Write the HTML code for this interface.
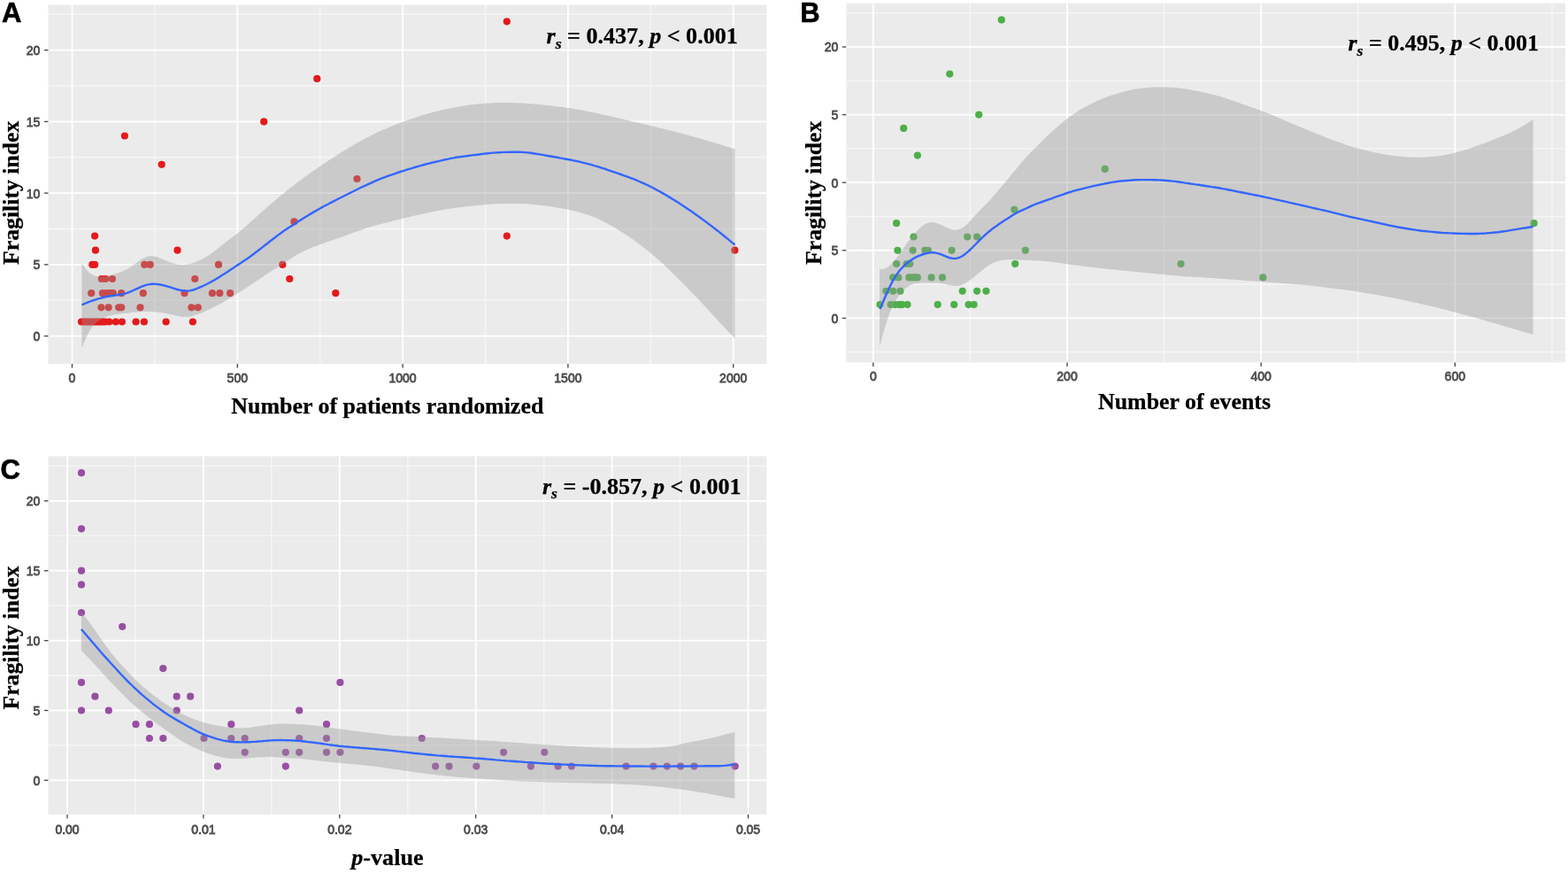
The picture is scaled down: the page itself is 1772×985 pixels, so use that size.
<!DOCTYPE html>
<html lang="en">
<head>
<meta charset="utf-8">
<title>Fragility index correlations</title>
<style>
html,body{margin:0;padding:0;background:#fff}
body{width:1772px;height:985px;overflow:hidden}
svg{display:block}
.gmin{stroke:#f7f7f7;stroke-width:1.3;fill:none}
.gmaj{stroke:#ffffff;stroke-width:1.8;fill:none}
.tl text{font-family:"Liberation Sans",sans-serif;font-size:14px;fill:#4d4d4d;stroke:#4d4d4d;stroke-width:0.8}
.tt{font-family:"Liberation Serif",serif;font-size:26px;font-weight:700;fill:#000;stroke:#000;stroke-width:0.25}
.an{font-family:"Liberation Serif",serif;font-size:25px;font-weight:700;fill:#000;stroke:#000;stroke-width:0.25}
.lt{font-family:"Liberation Sans",sans-serif;font-size:31px;font-weight:700;fill:#000;stroke:#000;stroke-width:0.6}
</style>
</head>
<body>
<svg width="1772" height="985" viewBox="0 0 1772 985">
<rect width="1772" height="985" fill="#ffffff"/>
<g class="panel">
<rect x="54.5" y="5.5" width="811.8" height="405.5" fill="#ebebeb"/>
<clipPath id="cp1"><rect x="54.5" y="5.5" width="811.8" height="405.5"/></clipPath>
<g><path d="M54.5 339.2H866.3" class="gmin"/><path d="M54.5 258.5H866.3" class="gmin"/><path d="M54.5 177.7H866.3" class="gmin"/><path d="M54.5 97H866.3" class="gmin"/><path d="M54.5 16.2H866.3" class="gmin"/><path d="M174.9 5.5V411" class="gmin"/><path d="M361.7 5.5V411" class="gmin"/><path d="M548.5 5.5V411" class="gmin"/><path d="M735.3 5.5V411" class="gmin"/><path d="M54.5 379.6H866.3" class="gmaj"/><path d="M54.5 298.9H866.3" class="gmaj"/><path d="M54.5 218.1H866.3" class="gmaj"/><path d="M54.5 137.4H866.3" class="gmaj"/><path d="M54.5 56.6H866.3" class="gmaj"/><path d="M81.5 5.5V411" class="gmaj"/><path d="M268.3 5.5V411" class="gmaj"/><path d="M455.1 5.5V411" class="gmaj"/><path d="M641.9 5.5V411" class="gmaj"/><path d="M828.7 5.5V411" class="gmaj"/></g>
<g fill="#e41a1c"><circle cx="572.8" cy="24.3" r="4.1"/><circle cx="358.3" cy="88.9" r="4.1"/><circle cx="298.2" cy="137.4" r="4.1"/><circle cx="140.9" cy="153.5" r="4.1"/><circle cx="182.7" cy="185.8" r="4.1"/><circle cx="403.5" cy="202" r="4.1"/><circle cx="332.4" cy="250.4" r="4.1"/><circle cx="107.1" cy="266.6" r="4.1"/><circle cx="572.8" cy="266.6" r="4.1"/><circle cx="107.9" cy="282.7" r="4.1"/><circle cx="200.5" cy="282.7" r="4.1"/><circle cx="830.4" cy="282.7" r="4.1"/><circle cx="104.3" cy="298.9" r="4.1"/><circle cx="107.1" cy="298.9" r="4.1"/><circle cx="163.3" cy="298.9" r="4.1"/><circle cx="169.7" cy="298.9" r="4.1"/><circle cx="247" cy="298.9" r="4.1"/><circle cx="319.3" cy="298.9" r="4.1"/><circle cx="114.8" cy="315" r="4.1"/><circle cx="119.2" cy="315" r="4.1"/><circle cx="126.9" cy="315" r="4.1"/><circle cx="220.3" cy="315" r="4.1"/><circle cx="327.3" cy="315" r="4.1"/><circle cx="103.2" cy="331.2" r="4.1"/><circle cx="115.9" cy="331.2" r="4.1"/><circle cx="120.4" cy="331.2" r="4.1"/><circle cx="124.1" cy="331.2" r="4.1"/><circle cx="127.8" cy="331.2" r="4.1"/><circle cx="137.2" cy="331.2" r="4.1"/><circle cx="161.8" cy="331.2" r="4.1"/><circle cx="208.5" cy="331.2" r="4.1"/><circle cx="239.9" cy="331.2" r="4.1"/><circle cx="248.3" cy="331.2" r="4.1"/><circle cx="260.1" cy="331.2" r="4.1"/><circle cx="379.3" cy="331.2" r="4.1"/><circle cx="114.4" cy="347.3" r="4.1"/><circle cx="122.6" cy="347.3" r="4.1"/><circle cx="134.2" cy="347.3" r="4.1"/><circle cx="137.2" cy="347.3" r="4.1"/><circle cx="158.5" cy="347.3" r="4.1"/><circle cx="216.4" cy="347.3" r="4.1"/><circle cx="223.8" cy="347.3" r="4.1"/><circle cx="92" cy="363.5" r="4.1"/><circle cx="94.2" cy="363.5" r="4.1"/><circle cx="96.4" cy="363.5" r="4.1"/><circle cx="98.7" cy="363.5" r="4.1"/><circle cx="100.9" cy="363.5" r="4.1"/><circle cx="103.2" cy="363.5" r="4.1"/><circle cx="105.4" cy="363.5" r="4.1"/><circle cx="107.7" cy="363.5" r="4.1"/><circle cx="109.9" cy="363.5" r="4.1"/><circle cx="112.1" cy="363.5" r="4.1"/><circle cx="114.4" cy="363.5" r="4.1"/><circle cx="116.6" cy="363.5" r="4.1"/><circle cx="118.9" cy="363.5" r="4.1"/><circle cx="123.3" cy="363.5" r="4.1"/><circle cx="130.8" cy="363.5" r="4.1"/><circle cx="137.9" cy="363.5" r="4.1"/><circle cx="153.6" cy="363.5" r="4.1"/><circle cx="162.9" cy="363.5" r="4.1"/><circle cx="187.6" cy="363.5" r="4.1"/><circle cx="217.9" cy="363.5" r="4.1"/></g>
<path d="M92.5 297.2L95.5 301.7L98.5 305.5L101.5 308.5L104.5 310.5L107.5 311.8L110.5 312.4L113.5 312.5L116.5 312.3L119.5 311.9L122.5 311.4L125.5 310.7L128.5 309.9L131.5 309L134.5 308L137.5 306.9L140.5 305.6L143.5 304.1L146.5 302.3L149.5 300.3L152.5 298.1L155.5 295.9L158.5 293.7L161.5 291.9L164.5 290.5L167.5 289.5L170.5 289.2L173.5 289.4L176.5 290L179.5 291L182.5 292.2L185.5 293.5L188.5 294.8L191.5 296L194.5 297.1L197.5 297.9L200.5 298.5L203.5 298.9L206.5 299L209.5 298.8L212.5 298.4L215.5 297.8L218.5 296.9L221.5 295.8L224.5 294.6L227.5 293.2L230.5 291.6L233.5 289.8L236.5 287.9L239.5 285.7L242.5 283.5L245.5 281.2L248.5 278.8L251.5 276.5L254.5 274.1L257.5 271.8L260.5 269.5L263.5 267.2L266.5 264.9L269.5 262.5L272.5 260.1L275.5 257.5L278.5 254.9L281.5 252.3L284.5 249.6L287.5 246.9L290.5 244.2L293.5 241.5L296.5 238.8L299.5 236.2L302.5 233.6L305.5 231L308.5 228.4L311.5 225.9L314.5 223.3L317.5 220.8L320.5 218.4L323.5 216L326.5 213.6L329.5 211.2L332.5 208.9L335.5 206.5L338.5 204.2L341.5 202L344.5 199.8L347.5 197.7L350.5 195.6L353.5 193.5L356.5 191.4L359.5 189.3L362.5 187.3L365.5 185.2L368.5 183.3L371.5 181.3L374.5 179.3L377.5 177.4L380.5 175.4L383.5 173.5L386.5 171.6L389.5 169.8L392.5 168L395.5 166.2L398.5 164.4L401.5 162.6L404.5 160.9L407.5 159.2L410.5 157.5L413.5 156L416.5 154.5L419.5 153L422.5 151.5L425.5 150L428.5 148.6L431.5 147.2L434.5 145.9L437.5 144.7L440.5 143.5L443.5 142.3L446.5 141.1L449.5 139.9L452.5 138.8L455.5 137.6L458.5 136.6L461.5 135.5L464.5 134.4L467.5 133.4L470.5 132.4L473.5 131.4L476.5 130.4L479.5 129.5L482.5 128.7L485.5 127.9L488.5 127L491.5 126.2L494.5 125.5L497.5 124.7L500.5 124L503.5 123.4L506.5 122.8L509.5 122.2L512.5 121.6L515.5 121L518.5 120.4L521.5 119.9L524.5 119.5L527.5 119L530.5 118.6L533.5 118.2L536.5 117.8L539.5 117.5L542.5 117.2L545.5 116.9L548.5 116.7L551.5 116.5L554.5 116.4L557.5 116.2L560.5 116.1L563.5 116L566.5 115.9L569.5 115.9L572.5 116L575.5 116L578.5 116.1L581.5 116.2L584.5 116.2L587.5 116.4L590.5 116.5L593.5 116.7L596.5 116.9L599.5 117.2L602.5 117.4L605.5 117.7L608.5 117.9L611.5 118.2L614.5 118.5L617.5 118.9L620.5 119.2L623.5 119.6L626.5 119.9L629.5 120.3L632.5 120.7L635.5 121.1L638.5 121.5L641.5 121.9L644.5 122.3L647.5 122.7L650.5 123.2L653.5 123.7L656.5 124.3L659.5 124.9L662.5 125.4L665.5 126L668.5 126.7L671.5 127.3L674.5 127.9L677.5 128.6L680.5 129.3L683.5 129.9L686.5 130.6L689.5 131.2L692.5 131.9L695.5 132.6L698.5 133.3L701.5 134L704.5 134.8L707.5 135.5L710.5 136.2L713.5 136.9L716.5 137.6L719.5 138.3L722.5 139L725.5 139.7L728.5 140.4L731.5 141.1L734.5 141.8L737.5 142.5L740.5 143.2L743.5 144L746.5 144.7L749.5 145.4L752.5 146.2L755.5 146.9L758.5 147.6L761.5 148.4L764.5 149.2L767.5 149.9L770.5 150.7L773.5 151.6L776.5 152.4L779.5 153.2L782.5 154.1L785.5 154.9L788.5 155.8L791.5 156.6L794.5 157.5L797.5 158.4L800.5 159.3L803.5 160.2L806.5 161.1L809.5 162L812.5 162.9L815.5 163.8L818.5 164.7L821.5 165.6L824.5 166.6L827.5 167.5L830.5 168.5L830.5 382.2L827.5 379.1L824.5 376L821.5 372.9L818.5 369.7L815.5 366.6L812.5 363.4L809.5 360.1L806.5 356.8L803.5 353.5L800.5 350.3L797.5 347L794.5 343.7L791.5 340.5L788.5 337.4L785.5 334.2L782.5 331.1L779.5 328L776.5 324.8L773.5 321.7L770.5 318.7L767.5 315.7L764.5 312.7L761.5 309.8L758.5 306.9L755.5 304L752.5 301.1L749.5 298.3L746.5 295.5L743.5 292.8L740.5 290.2L737.5 287.7L734.5 285.2L731.5 282.8L728.5 280.4L725.5 278L722.5 275.7L719.5 273.4L716.5 271.3L713.5 269.2L710.5 267.2L707.5 265.3L704.5 263.4L701.5 261.5L698.5 259.6L695.5 257.7L692.5 255.9L689.5 254.2L686.5 252.6L683.5 251L680.5 249.5L677.5 248L674.5 246.6L671.5 245.3L668.5 244.2L665.5 243.1L662.5 242.1L659.5 241.2L656.5 240.2L653.5 239.3L650.5 238.5L647.5 237.8L644.5 237.2L641.5 236.6L638.5 236.1L635.5 235.5L632.5 235L629.5 234.5L626.5 233.9L623.5 233.5L620.5 233L617.5 232.6L614.5 232.3L611.5 231.9L608.5 231.5L605.5 231.2L602.5 230.9L599.5 230.6L596.5 230.5L593.5 230.3L590.5 230.2L587.5 230.1L584.5 230L581.5 230L578.5 229.9L575.5 229.9L572.5 230L569.5 230.1L566.5 230.1L563.5 230.2L560.5 230.3L557.5 230.5L554.5 230.6L551.5 230.9L548.5 231.1L545.5 231.4L542.5 231.7L539.5 232L536.5 232.3L533.5 232.6L530.5 232.9L527.5 233.3L524.5 233.6L521.5 234L518.5 234.3L515.5 234.7L512.5 235.1L509.5 235.5L506.5 236L503.5 236.5L500.5 237.1L497.5 237.6L494.5 238.1L491.5 238.7L488.5 239.3L485.5 239.9L482.5 240.5L479.5 241.2L476.5 241.8L473.5 242.5L470.5 243.2L467.5 243.8L464.5 244.5L461.5 245.2L458.5 246L455.5 246.7L452.5 247.5L449.5 248.2L446.5 249L443.5 249.7L440.5 250.5L437.5 251.2L434.5 252L431.5 252.7L428.5 253.5L425.5 254.3L422.5 255.1L419.5 255.9L416.5 256.9L413.5 257.8L410.5 258.9L407.5 259.9L404.5 261L401.5 262L398.5 263.1L395.5 264.2L392.5 265.3L389.5 266.4L386.5 267.5L383.5 268.6L380.5 269.6L377.5 270.7L374.5 271.7L371.5 272.8L368.5 273.8L365.5 274.9L362.5 275.9L359.5 277L356.5 278.1L353.5 279.2L350.5 280.4L347.5 281.7L344.5 283L341.5 284.5L338.5 286.1L335.5 287.8L332.5 289.6L329.5 291.5L326.5 293.4L323.5 295.5L320.5 297.5L317.5 299.4L314.5 301.4L311.5 303.2L308.5 305.1L305.5 307L302.5 308.9L299.5 310.9L296.5 312.9L293.5 314.9L290.5 316.9L287.5 318.9L284.5 320.9L281.5 322.9L278.5 324.9L275.5 326.9L272.5 328.9L269.5 330.8L266.5 332.7L263.5 334.7L260.5 336.5L257.5 338.3L254.5 340.1L251.5 341.8L248.5 343.4L245.5 345L242.5 346.5L239.5 347.9L236.5 349.4L233.5 350.8L230.5 352.2L227.5 353.5L224.5 354.7L221.5 355.8L218.5 356.7L215.5 357.4L212.5 357.9L209.5 358L206.5 357.9L203.5 357.5L200.5 356.9L197.5 356.3L194.5 355.6L191.5 354.9L188.5 354.2L185.5 353.6L182.5 353.2L179.5 352.8L176.5 352.5L173.5 352.3L170.5 352.1L167.5 352L164.5 352L161.5 352.1L158.5 352.3L155.5 352.5L152.5 352.8L149.5 353.1L146.5 353.4L143.5 353.7L140.5 354L137.5 354.3L134.5 354.7L131.5 355.1L128.5 355.6L125.5 356.3L122.5 357L119.5 358L116.5 359.3L113.5 360.9L110.5 362.9L107.5 365.6L104.5 369L101.5 373.5L98.5 379.1L95.5 385.8L92.5 393.2Z" fill="#999999" fill-opacity="0.4" clip-path="url(#cp1)"/>
<path d="M92.5 344.4L95.5 343.1L98.5 341.9L101.5 340.7L104.5 339.6L107.5 338.6L110.5 337.6L113.5 336.8L116.5 336L119.5 335.3L122.5 334.7L125.5 334.2L128.5 333.8L131.5 333.4L134.5 333L137.5 332.5L140.5 331.8L143.5 330.9L146.5 329.8L149.5 328.5L152.5 327.2L155.5 325.8L158.5 324.4L161.5 323.2L164.5 322.2L167.5 321.4L170.5 321L173.5 320.8L176.5 320.9L179.5 321.3L182.5 321.8L185.5 322.5L188.5 323.3L191.5 324.2L194.5 325.2L197.5 326.1L200.5 327L203.5 327.8L206.5 328.3L209.5 328.6L212.5 328.6L215.5 328.2L218.5 327.5L221.5 326.4L224.5 325.2L227.5 323.9L230.5 322.5L233.5 321L236.5 319.5L239.5 317.9L242.5 316.2L245.5 314.4L248.5 312.5L251.5 310.6L254.5 308.7L257.5 306.8L260.5 304.8L263.5 302.8L266.5 300.8L269.5 298.8L272.5 296.8L275.5 294.8L278.5 292.8L281.5 290.7L284.5 288.5L287.5 286.3L290.5 284L293.5 281.7L296.5 279.4L299.5 277L302.5 274.7L305.5 272.3L308.5 270L311.5 267.7L314.5 265.4L317.5 263.2L320.5 261.1L323.5 259.1L326.5 257.1L329.5 255.2L332.5 253.3L335.5 251.3L338.5 249.3L341.5 247.4L344.5 245.5L347.5 243.7L350.5 241.9L353.5 240.1L356.5 238.4L359.5 236.7L362.5 235L365.5 233.3L368.5 231.7L371.5 230.2L374.5 228.6L377.5 227.1L380.5 225.5L383.5 224L386.5 222.5L389.5 221L392.5 219.5L395.5 218L398.5 216.5L401.5 215L404.5 213.5L407.5 212L410.5 210.6L413.5 209.3L416.5 207.9L419.5 206.6L422.5 205.2L425.5 203.9L428.5 202.6L431.5 201.4L434.5 200.3L437.5 199.2L440.5 198.1L443.5 197.1L446.5 196.1L449.5 195L452.5 194L455.5 193.1L458.5 192.1L461.5 191.2L464.5 190.3L467.5 189.4L470.5 188.5L473.5 187.6L476.5 186.8L479.5 186L482.5 185.2L485.5 184.5L488.5 183.7L491.5 183L494.5 182.3L497.5 181.6L500.5 180.9L503.5 180.2L506.5 179.6L509.5 178.9L512.5 178.4L515.5 177.8L518.5 177.4L521.5 177L524.5 176.6L527.5 176.2L530.5 175.8L533.5 175.4L536.5 175L539.5 174.7L542.5 174.3L545.5 173.9L548.5 173.5L551.5 173.2L554.5 172.9L557.5 172.6L560.5 172.4L563.5 172.2L566.5 172.1L569.5 171.9L572.5 171.9L575.5 171.8L578.5 171.8L581.5 171.8L584.5 171.8L587.5 171.8L590.5 171.9L593.5 172.1L596.5 172.4L599.5 172.8L602.5 173.2L605.5 173.7L608.5 174.1L611.5 174.6L614.5 175.1L617.5 175.7L620.5 176.2L623.5 176.7L626.5 177.3L629.5 177.8L632.5 178.4L635.5 178.9L638.5 179.5L641.5 180L644.5 180.5L647.5 181.1L650.5 181.8L653.5 182.4L656.5 183.1L659.5 183.9L662.5 184.6L665.5 185.4L668.5 186.2L671.5 187.1L674.5 187.9L677.5 188.8L680.5 189.8L683.5 190.7L686.5 191.8L689.5 192.8L692.5 193.8L695.5 194.9L698.5 195.9L701.5 197L704.5 198.1L707.5 199.1L710.5 200.2L713.5 201.3L716.5 202.4L719.5 203.7L722.5 205L725.5 206.3L728.5 207.6L731.5 209L734.5 210.5L737.5 212L740.5 213.6L743.5 215.2L746.5 216.9L749.5 218.6L752.5 220.3L755.5 222.1L758.5 223.9L761.5 225.8L764.5 227.6L767.5 229.5L770.5 231.5L773.5 233.4L776.5 235.5L779.5 237.5L782.5 239.6L785.5 241.7L788.5 243.8L791.5 246L794.5 248.2L797.5 250.4L800.5 252.7L803.5 254.9L806.5 257.2L809.5 259.5L812.5 261.9L815.5 264.3L818.5 266.7L821.5 269.2L824.5 271.6L827.5 274.1L830.5 276.5" fill="none" stroke="#3366ff" stroke-width="2.4" stroke-linejoin="round"/>
<g stroke="#444" stroke-width="1.3"><path d="M50 379.6H54.5"/><path d="M50 298.9H54.5"/><path d="M50 218.1H54.5"/><path d="M50 137.4H54.5"/><path d="M50 56.6H54.5"/><path d="M81.5 411V415.5"/><path d="M268.3 411V415.5"/><path d="M455.1 411V415.5"/><path d="M641.9 411V415.5"/><path d="M828.7 411V415.5"/></g>
<g class="tl" text-anchor="end"><text x="45.4" y="385">0</text><text x="45.4" y="304.2">5</text><text x="45.4" y="223.5">10</text><text x="45.4" y="142.8">15</text><text x="45.4" y="62">20</text></g>
<g class="tl" text-anchor="middle"><text x="81.5" y="432.4">0</text><text x="268.3" y="432.4">500</text><text x="455.1" y="432.4">1000</text><text x="641.9" y="432.4">1500</text><text x="828.7" y="432.4">2000</text></g>
<text class="tt" text-anchor="middle" x="437.8" y="466.5" textLength="353" lengthAdjust="spacingAndGlyphs">Number of patients randomized</text>
<text class="tt" text-anchor="middle" transform="translate(21.2 217.8) rotate(-90)" textLength="162.5" lengthAdjust="spacingAndGlyphs">Fragility index</text>
<text class="an" x="617.5" y="49.2" textLength="216.3" lengthAdjust="spacingAndGlyphs"><tspan font-style="italic">r</tspan><tspan font-style="italic" font-size="17" dy="5.5">s</tspan><tspan dy="-5.5"> = 0.437, </tspan><tspan font-style="italic">p</tspan> &lt; 0.001</text>
<text class="lt" x="2" y="25.2">A</text>
</g>
<g class="panel">
<rect x="956.3" y="3.7" width="812.7" height="405.7" fill="#ebebeb"/>
<clipPath id="cp2"><rect x="956.3" y="3.7" width="812.7" height="405.7"/></clipPath>
<g><path d="M956.3 397.7H1769" class="gmin"/><path d="M956.3 321.1H1769" class="gmin"/><path d="M956.3 244.5H1769" class="gmin"/><path d="M956.3 167.9H1769" class="gmin"/><path d="M956.3 91.3H1769" class="gmin"/><path d="M956.3 14.7H1769" class="gmin"/><path d="M1096.3 3.7V409.4" class="gmin"/><path d="M1315.5 3.7V409.4" class="gmin"/><path d="M1534.8 3.7V409.4" class="gmin"/><path d="M1754 3.7V409.4" class="gmin"/><path d="M956.3 359.4H1769" class="gmaj"/><path d="M956.3 282.8H1769" class="gmaj"/><path d="M956.3 206.2H1769" class="gmaj"/><path d="M956.3 129.6H1769" class="gmaj"/><path d="M956.3 53H1769" class="gmaj"/><path d="M986.8 3.7V409.4" class="gmaj"/><path d="M1206 3.7V409.4" class="gmaj"/><path d="M1425.2 3.7V409.4" class="gmaj"/><path d="M1644.3 3.7V409.4" class="gmaj"/></g>
<g fill="#4daf4a"><circle cx="1131.8" cy="22.4" r="4.1"/><circle cx="1073.3" cy="83.6" r="4.1"/><circle cx="1106.2" cy="129.6" r="4.1"/><circle cx="1021.2" cy="144.9" r="4.1"/><circle cx="1036.9" cy="175.6" r="4.1"/><circle cx="1248.7" cy="190.9" r="4.1"/><circle cx="1146.3" cy="236.8" r="4.1"/><circle cx="1013.1" cy="252.2" r="4.1"/><circle cx="1733.5" cy="252.2" r="4.1"/><circle cx="1032.5" cy="267.5" r="4.1"/><circle cx="1093.2" cy="267.5" r="4.1"/><circle cx="1104.1" cy="267.5" r="4.1"/><circle cx="1014.4" cy="282.8" r="4.1"/><circle cx="1031.6" cy="282.8" r="4.1"/><circle cx="1045.4" cy="282.8" r="4.1"/><circle cx="1048.9" cy="282.8" r="4.1"/><circle cx="1075.6" cy="282.8" r="4.1"/><circle cx="1158.8" cy="282.8" r="4.1"/><circle cx="1013.1" cy="298.1" r="4.1"/><circle cx="1024.7" cy="298.1" r="4.1"/><circle cx="1028.2" cy="298.1" r="4.1"/><circle cx="1147.2" cy="298.1" r="4.1"/><circle cx="1334.5" cy="298.1" r="4.1"/><circle cx="1009.2" cy="313.4" r="4.1"/><circle cx="1015.2" cy="313.4" r="4.1"/><circle cx="1027.3" cy="313.4" r="4.1"/><circle cx="1030.8" cy="313.4" r="4.1"/><circle cx="1034.2" cy="313.4" r="4.1"/><circle cx="1036.8" cy="313.4" r="4.1"/><circle cx="1052.6" cy="313.4" r="4.1"/><circle cx="1064.9" cy="313.4" r="4.1"/><circle cx="1427.3" cy="313.4" r="4.1"/><circle cx="1001.4" cy="328.8" r="4.1"/><circle cx="1009.2" cy="328.8" r="4.1"/><circle cx="1017.4" cy="328.8" r="4.1"/><circle cx="1087.7" cy="328.8" r="4.1"/><circle cx="1104.1" cy="328.8" r="4.1"/><circle cx="1114.4" cy="328.8" r="4.1"/><circle cx="994.5" cy="344.1" r="4.1"/><circle cx="1006.6" cy="344.1" r="4.1"/><circle cx="1011.7" cy="344.1" r="4.1"/><circle cx="1016.1" cy="344.1" r="4.1"/><circle cx="1019.5" cy="344.1" r="4.1"/><circle cx="1025.5" cy="344.1" r="4.1"/><circle cx="1059.7" cy="344.1" r="4.1"/><circle cx="1078.2" cy="344.1" r="4.1"/><circle cx="1094.6" cy="344.1" r="4.1"/><circle cx="1100.6" cy="344.1" r="4.1"/></g>
<path d="M994 304.5L997 304.1L1000 303.3L1003 301.7L1006 299.3L1009 296.3L1012 292.7L1015 288.9L1018 284.7L1021 280.4L1024 276.1L1027 272L1030 268.1L1033 264.6L1036 261.3L1039 258.3L1042 255.7L1045 253.6L1048 252.1L1051 251.2L1054 251.1L1057 251.6L1060 252.6L1063 253.8L1066 255.3L1069 256.8L1072 258.1L1075.1 259.2L1078.1 259.8L1081.1 259.8L1084.1 259.1L1087.1 257.7L1090.1 255.7L1093.1 253L1096.1 249.8L1099.1 246.5L1102.1 243.1L1105.1 239.9L1108.1 236.8L1111.1 233.8L1114.1 230.8L1117.1 227.7L1120.1 224.5L1123.1 221.1L1126.1 217.6L1129.1 214.1L1132.1 210.5L1135.1 206.9L1138.1 203.3L1141.1 199.7L1144.1 196.1L1147.1 192.5L1150.1 188.9L1153.1 185.3L1156.1 181.8L1159.1 178.3L1162.1 175L1165.1 171.8L1168.1 168.7L1171.1 165.7L1174.1 162.7L1177.1 159.7L1180.1 156.8L1183.1 153.9L1186.1 151.1L1189.1 148.4L1192.1 145.7L1195.1 143L1198.1 140.4L1201.1 137.9L1204.1 135.5L1207.1 133.3L1210.1 131.1L1213.1 129L1216.1 127L1219.1 125L1222.2 123.1L1225.2 121.4L1228.2 119.8L1231.2 118.2L1234.2 116.7L1237.2 115.2L1240.2 113.8L1243.2 112.5L1246.2 111.3L1249.2 110.2L1252.2 109.1L1255.2 108.1L1258.2 107.1L1261.2 106.1L1264.2 105.2L1267.2 104.4L1270.2 103.6L1273.2 102.8L1276.2 102.1L1279.2 101.4L1282.2 100.8L1285.2 100.3L1288.2 99.9L1291.2 99.5L1294.2 99.2L1297.2 98.9L1300.2 98.7L1303.2 98.5L1306.2 98.4L1309.2 98.4L1312.2 98.5L1315.2 98.5L1318.2 98.6L1321.2 98.7L1324.2 98.8L1327.2 99L1330.2 99.2L1333.2 99.6L1336.2 99.9L1339.2 100.3L1342.2 100.8L1345.2 101.3L1348.2 101.9L1351.2 102.5L1354.2 103.1L1357.2 103.8L1360.2 104.4L1363.2 105.1L1366.2 105.8L1369.3 106.5L1372.3 107.2L1375.3 108L1378.3 108.8L1381.3 109.7L1384.3 110.6L1387.3 111.7L1390.3 112.7L1393.3 113.7L1396.3 114.8L1399.3 115.8L1402.3 116.9L1405.3 117.9L1408.3 119L1411.3 120L1414.3 121.1L1417.3 122.2L1420.3 123.2L1423.3 124.3L1426.3 125.4L1429.3 126.5L1432.3 127.7L1435.3 129L1438.3 130.3L1441.3 131.5L1444.3 132.8L1447.3 134.1L1450.3 135.4L1453.3 136.7L1456.3 138L1459.3 139.2L1462.3 140.5L1465.3 141.8L1468.3 143L1471.3 144.3L1474.3 145.5L1477.3 146.8L1480.3 148L1483.3 149.2L1486.3 150.4L1489.3 151.6L1492.3 152.8L1495.3 154L1498.3 155.2L1501.3 156.4L1504.3 157.5L1507.3 158.6L1510.3 159.7L1513.4 160.8L1516.4 161.8L1519.4 162.9L1522.4 163.9L1525.4 164.9L1528.4 165.9L1531.4 166.7L1534.4 167.6L1537.4 168.3L1540.4 169.1L1543.4 169.8L1546.4 170.6L1549.4 171.3L1552.4 172L1555.4 172.6L1558.4 173.2L1561.4 173.7L1564.4 174.3L1567.4 174.8L1570.4 175.3L1573.4 175.8L1576.4 176.2L1579.4 176.6L1582.4 176.8L1585.4 177L1588.4 177.2L1591.4 177.4L1594.4 177.5L1597.4 177.6L1600.4 177.7L1603.4 177.8L1606.4 177.7L1609.4 177.6L1612.4 177.4L1615.4 177.2L1618.4 177L1621.4 176.8L1624.4 176.5L1627.4 176.1L1630.4 175.6L1633.4 175L1636.4 174.4L1639.4 173.6L1642.4 172.9L1645.4 172.1L1648.4 171.4L1651.4 170.5L1654.4 169.7L1657.4 168.7L1660.5 167.7L1663.5 166.7L1666.5 165.6L1669.5 164.6L1672.5 163.5L1675.5 162.5L1678.5 161.4L1681.5 160.2L1684.5 159L1687.5 157.9L1690.5 156.7L1693.5 155.5L1696.5 154.2L1699.5 153L1702.5 151.7L1705.5 150.4L1708.5 149L1711.5 147.5L1714.5 145.9L1717.5 144.3L1720.5 142.6L1723.5 140.8L1726.5 138.9L1729.5 136.9L1732.5 135L1732.5 378L1729.5 377.1L1726.5 376.2L1723.5 375.3L1720.5 374.5L1717.5 373.6L1714.5 372.7L1711.5 371.8L1708.5 370.9L1705.5 370L1702.5 369.2L1699.5 368.3L1696.5 367.4L1693.5 366.5L1690.5 365.6L1687.5 364.7L1684.5 363.9L1681.5 363L1678.5 362.1L1675.5 361.3L1672.5 360.5L1669.5 359.6L1666.5 358.8L1663.5 358L1660.5 357.1L1657.4 356.3L1654.4 355.5L1651.4 354.7L1648.4 353.8L1645.4 353L1642.4 352.2L1639.4 351.4L1636.4 350.6L1633.4 349.7L1630.4 349L1627.4 348.2L1624.4 347.5L1621.4 346.8L1618.4 346.1L1615.4 345.4L1612.4 344.8L1609.4 344.1L1606.4 343.4L1603.4 342.7L1600.4 342.1L1597.4 341.4L1594.4 340.7L1591.4 340L1588.4 339.4L1585.4 338.7L1582.4 338.1L1579.4 337.4L1576.4 336.8L1573.4 336.3L1570.4 335.7L1567.4 335.2L1564.4 334.7L1561.4 334.2L1558.4 333.6L1555.4 333.1L1552.4 332.6L1549.4 332.1L1546.4 331.5L1543.4 331L1540.4 330.5L1537.4 330L1534.4 329.5L1531.4 329L1528.4 328.5L1525.4 328.1L1522.4 327.7L1519.4 327.3L1516.4 326.9L1513.4 326.5L1510.3 326.2L1507.3 325.8L1504.3 325.4L1501.3 325L1498.3 324.7L1495.3 324.3L1492.3 323.9L1489.3 323.5L1486.3 323.2L1483.3 322.8L1480.3 322.5L1477.3 322.2L1474.3 321.9L1471.3 321.7L1468.3 321.5L1465.3 321.2L1462.3 321L1459.3 320.8L1456.3 320.5L1453.3 320.3L1450.3 320.1L1447.3 319.9L1444.3 319.6L1441.3 319.4L1438.3 319.2L1435.3 319L1432.3 318.7L1429.3 318.5L1426.3 318.3L1423.3 318.1L1420.3 317.8L1417.3 317.6L1414.3 317.4L1411.3 317.2L1408.3 316.9L1405.3 316.7L1402.3 316.5L1399.3 316.3L1396.3 316L1393.3 315.8L1390.3 315.6L1387.3 315.4L1384.3 315.1L1381.3 314.9L1378.3 314.7L1375.3 314.5L1372.3 314.3L1369.3 314.1L1366.2 313.9L1363.2 313.7L1360.2 313.5L1357.2 313.3L1354.2 313.1L1351.2 312.9L1348.2 312.8L1345.2 312.6L1342.2 312.4L1339.2 312.2L1336.2 312L1333.2 311.8L1330.2 311.5L1327.2 311.3L1324.2 311L1321.2 310.7L1318.2 310.4L1315.2 310.1L1312.2 309.8L1309.2 309.5L1306.2 309.2L1303.2 309L1300.2 308.7L1297.2 308.4L1294.2 308.1L1291.2 307.8L1288.2 307.5L1285.2 307.2L1282.2 306.9L1279.2 306.6L1276.2 306.3L1273.2 306L1270.2 305.7L1267.2 305.4L1264.2 305.1L1261.2 304.8L1258.2 304.5L1255.2 304.2L1252.2 303.9L1249.2 303.6L1246.2 303.3L1243.2 303L1240.2 302.6L1237.2 302.3L1234.2 302L1231.2 301.6L1228.2 301.2L1225.2 300.8L1222.2 300.4L1219.1 300L1216.1 299.6L1213.1 299.2L1210.1 298.8L1207.1 298.4L1204.1 297.9L1201.1 297.5L1198.1 297.1L1195.1 296.7L1192.1 296.3L1189.1 295.9L1186.1 295.5L1183.1 295.2L1180.1 294.9L1177.1 294.7L1174.1 294.5L1171.1 294.4L1168.1 294.2L1165.1 294.1L1162.1 294L1159.1 293.9L1156.1 293.7L1153.1 293.6L1150.1 293.4L1147.1 293.3L1144.1 293.2L1141.1 293.2L1138.1 293.3L1135.1 293.5L1132.1 293.9L1129.1 294.5L1126.1 295.4L1123.1 296.6L1120.1 298.2L1117.1 300L1114.1 302.1L1111.1 304.4L1108.1 306.8L1105.1 309.4L1102.1 311.9L1099.1 314.3L1096.1 316.5L1093.1 318.6L1090.1 320.3L1087.1 321.7L1084.1 322.7L1081.1 323.1L1078.1 323L1075.1 322.6L1072 321.9L1069 321.1L1066 320.4L1063 319.9L1060 319.6L1057 319.5L1054 319.4L1051 319.4L1048 319.4L1045 319.5L1042 319.5L1039 319.7L1036 320L1033 320.6L1030 321.6L1027 323.2L1024 325.3L1021 327.9L1018 331.2L1015 335.1L1012 339.9L1009 345.6L1006 352.5L1003 360.5L1000 369.9L997 380.3L994 391.3Z" fill="#999999" fill-opacity="0.4" clip-path="url(#cp2)"/>
<path d="M994.5 349.1L997.5 342L1000.5 335L1003.5 328.3L1006.5 322L1009.5 316.3L1012.5 311.4L1015.5 307.1L1018.5 303.5L1021.5 300.4L1024.5 297.7L1027.5 295.3L1030.5 293.2L1033.5 291.4L1036.5 289.9L1039.5 288.6L1042.5 287.5L1045.5 286.5L1048.5 285.8L1051.5 285.4L1054.5 285.3L1057.5 285.6L1060.5 286.3L1063.5 287.4L1066.5 288.6L1069.5 289.9L1072.5 291L1075.5 291.8L1078.5 292.1L1081.5 291.7L1084.5 290.8L1087.5 289.2L1090.5 287.2L1093.5 284.7L1096.5 282L1099.5 279L1102.5 276L1105.5 272.9L1108.5 269.9L1111.5 267L1114.5 264.3L1117.5 261.7L1120.5 259.3L1123.5 257L1126.5 254.9L1129.5 252.8L1132.5 250.8L1135.5 248.8L1138.5 246.9L1141.5 244.9L1144.5 243L1147.5 241.3L1150.5 239.6L1153.5 238.2L1156.5 236.8L1159.5 235.5L1162.5 234.1L1165.5 232.7L1168.5 231.4L1171.5 230.2L1174.5 229.1L1177.5 228L1180.5 227L1183.5 225.9L1186.5 224.8L1189.5 223.8L1192.5 222.7L1195.5 221.7L1198.5 220.6L1201.5 219.6L1204.5 218.5L1207.5 217.5L1210.5 216.6L1213.5 215.7L1216.5 214.9L1219.5 214.1L1222.5 213.4L1225.5 212.6L1228.5 211.9L1231.5 211.1L1234.5 210.4L1237.5 209.8L1240.5 209.1L1243.5 208.5L1246.5 207.9L1249.5 207.3L1252.5 206.7L1255.5 206.1L1258.5 205.6L1261.5 205.2L1264.5 204.8L1267.5 204.5L1270.5 204.2L1273.5 204L1276.5 203.8L1279.5 203.5L1282.5 203.3L1285.5 203.2L1288.5 203.1L1291.5 203.1L1294.5 203.1L1297.5 203.1L1300.5 203.1L1303.5 203.2L1306.5 203.3L1309.5 203.4L1312.5 203.5L1315.5 203.7L1318.5 204L1321.5 204.3L1324.5 204.6L1327.5 204.9L1330.5 205.3L1333.5 205.7L1336.5 206.1L1339.5 206.6L1342.5 207L1345.5 207.5L1348.5 207.9L1351.5 208.4L1354.5 208.8L1357.5 209.3L1360.5 209.7L1363.5 210.2L1366.5 210.6L1369.5 211.1L1372.5 211.5L1375.5 212L1378.5 212.5L1381.5 213.1L1384.5 213.6L1387.5 214.2L1390.5 214.8L1393.5 215.4L1396.5 216L1399.5 216.6L1402.5 217.2L1405.5 217.8L1408.5 218.4L1411.5 219L1414.5 219.6L1417.5 220.2L1420.5 220.8L1423.5 221.4L1426.5 222L1429.5 222.6L1432.5 223.3L1435.5 223.9L1438.5 224.6L1441.5 225.3L1444.5 225.9L1447.5 226.6L1450.5 227.2L1453.5 227.9L1456.5 228.6L1459.5 229.3L1462.5 230L1465.5 230.6L1468.5 231.3L1471.5 232L1474.5 232.7L1477.5 233.4L1480.5 234.1L1483.5 234.8L1486.5 235.5L1489.5 236.2L1492.5 236.9L1495.5 237.5L1498.5 238.2L1501.5 238.9L1504.5 239.7L1507.5 240.4L1510.5 241.1L1513.5 241.9L1516.5 242.6L1519.5 243.4L1522.5 244.1L1525.5 244.8L1528.5 245.5L1531.5 246.1L1534.5 246.8L1537.5 247.4L1540.5 248.1L1543.5 248.7L1546.5 249.4L1549.5 250L1552.5 250.7L1555.5 251.3L1558.5 252L1561.5 252.7L1564.5 253.3L1567.5 254L1570.5 254.6L1573.5 255.3L1576.5 255.9L1579.5 256.5L1582.5 257L1585.5 257.5L1588.5 258L1591.5 258.5L1594.5 259L1597.5 259.4L1600.5 259.9L1603.5 260.3L1606.5 260.7L1609.5 261L1612.5 261.3L1615.5 261.6L1618.5 261.9L1621.5 262.2L1624.5 262.5L1627.5 262.8L1630.5 263L1633.5 263.1L1636.5 263.3L1639.5 263.4L1642.5 263.5L1645.5 263.7L1648.5 263.8L1651.5 263.9L1654.5 263.9L1657.5 264L1660.5 264L1663.5 264L1666.5 264L1669.5 264L1672.5 263.9L1675.5 263.7L1678.5 263.6L1681.5 263.3L1684.5 263.1L1687.5 262.8L1690.5 262.5L1693.5 262.2L1696.5 261.8L1699.5 261.3L1702.5 260.9L1705.5 260.4L1708.5 259.9L1711.5 259.4L1714.5 258.9L1717.5 258.4L1720.5 257.9L1723.5 257.5L1726.5 257L1729.5 256.5L1732.5 256" fill="none" stroke="#3366ff" stroke-width="2.4" stroke-linejoin="round"/>
<g stroke="#444" stroke-width="1.3"><path d="M951.8 359.4H956.3"/><path d="M951.8 282.8H956.3"/><path d="M951.8 206.2H956.3"/><path d="M951.8 129.6H956.3"/><path d="M951.8 53H956.3"/><path d="M986.8 409.4V413.9"/><path d="M1206 409.4V413.9"/><path d="M1425.2 409.4V413.9"/><path d="M1644.3 409.4V413.9"/></g>
<g class="tl" text-anchor="end"><text x="947.3" y="364.8">0</text><text x="947.3" y="288.2">5</text><text x="947.3" y="211.6">0</text><text x="947.3" y="135">5</text><text x="947.3" y="58.4">20</text></g>
<g class="tl" text-anchor="middle"><text x="986.8" y="430.3">0</text><text x="1206" y="430.3">200</text><text x="1425.2" y="430.3">400</text><text x="1644.3" y="430.3">600</text></g>
<text class="tt" text-anchor="middle" x="1338.5" y="462" textLength="195" lengthAdjust="spacingAndGlyphs">Number of events</text>
<text class="tt" text-anchor="middle" transform="translate(927.6 217.8) rotate(-90)" textLength="162.2" lengthAdjust="spacingAndGlyphs">Fragility index</text>
<text class="an" x="1523.5" y="57" textLength="215.5" lengthAdjust="spacingAndGlyphs"><tspan font-style="italic">r</tspan><tspan font-style="italic" font-size="17" dy="5.5">s</tspan><tspan dy="-5.5"> = 0.495, </tspan><tspan font-style="italic">p</tspan> &lt; 0.001</text>
<text class="lt" x="904.3" y="25.2">B</text>
</g>
<g class="panel">
<rect x="54.5" y="515.3" width="811.8" height="404.7" fill="#ebebeb"/>
<clipPath id="cp3"><rect x="54.5" y="515.3" width="811.8" height="404.7"/></clipPath>
<g><path d="M54.5 841.9H866.3" class="gmin"/><path d="M54.5 763H866.3" class="gmin"/><path d="M54.5 684.1H866.3" class="gmin"/><path d="M54.5 605.2H866.3" class="gmin"/><path d="M54.5 526.3H866.3" class="gmin"/><path d="M152.9 515.3V920" class="gmin"/><path d="M306.9 515.3V920" class="gmin"/><path d="M460.8 515.3V920" class="gmin"/><path d="M614.7 515.3V920" class="gmin"/><path d="M768.5 515.3V920" class="gmin"/><path d="M54.5 881.4H866.3" class="gmaj"/><path d="M54.5 802.5H866.3" class="gmaj"/><path d="M54.5 723.6H866.3" class="gmaj"/><path d="M54.5 644.7H866.3" class="gmaj"/><path d="M54.5 565.8H866.3" class="gmaj"/><path d="M76 515.3V920" class="gmaj"/><path d="M229.9 515.3V920" class="gmaj"/><path d="M383.8 515.3V920" class="gmaj"/><path d="M537.7 515.3V920" class="gmaj"/><path d="M691.6 515.3V920" class="gmaj"/><path d="M845.5 515.3V920" class="gmaj"/></g>
<g fill="#984ea3"><circle cx="92" cy="534.2" r="4.1"/><circle cx="92" cy="597.3" r="4.1"/><circle cx="92" cy="644.7" r="4.1"/><circle cx="92" cy="660.4" r="4.1"/><circle cx="92" cy="692" r="4.1"/><circle cx="138.2" cy="707.8" r="4.1"/><circle cx="92" cy="770.9" r="4.1"/><circle cx="92" cy="802.5" r="4.1"/><circle cx="107.4" cy="786.7" r="4.1"/><circle cx="122.8" cy="802.5" r="4.1"/><circle cx="153.5" cy="818.2" r="4.1"/><circle cx="168.9" cy="818.2" r="4.1"/><circle cx="168.9" cy="834" r="4.1"/><circle cx="184.3" cy="755.1" r="4.1"/><circle cx="184.3" cy="834" r="4.1"/><circle cx="199.7" cy="786.7" r="4.1"/><circle cx="199.7" cy="802.5" r="4.1"/><circle cx="215.1" cy="786.7" r="4.1"/><circle cx="230.5" cy="834" r="4.1"/><circle cx="245.9" cy="865.6" r="4.1"/><circle cx="261.3" cy="818.2" r="4.1"/><circle cx="261.3" cy="834" r="4.1"/><circle cx="276.7" cy="834" r="4.1"/><circle cx="276.7" cy="849.8" r="4.1"/><circle cx="322.8" cy="849.8" r="4.1"/><circle cx="322.8" cy="865.6" r="4.1"/><circle cx="338.2" cy="802.5" r="4.1"/><circle cx="338.2" cy="834" r="4.1"/><circle cx="338.2" cy="849.8" r="4.1"/><circle cx="369" cy="818.2" r="4.1"/><circle cx="369" cy="834" r="4.1"/><circle cx="369" cy="849.8" r="4.1"/><circle cx="384.4" cy="770.9" r="4.1"/><circle cx="384.4" cy="849.8" r="4.1"/><circle cx="476.7" cy="834" r="4.1"/><circle cx="492.1" cy="865.6" r="4.1"/><circle cx="507.5" cy="865.6" r="4.1"/><circle cx="538.3" cy="865.6" r="4.1"/><circle cx="569.1" cy="849.8" r="4.1"/><circle cx="599.9" cy="865.6" r="4.1"/><circle cx="615.3" cy="849.8" r="4.1"/><circle cx="630.6" cy="865.6" r="4.1"/><circle cx="646" cy="865.6" r="4.1"/><circle cx="707.6" cy="865.6" r="4.1"/><circle cx="738.4" cy="865.6" r="4.1"/><circle cx="753.8" cy="865.6" r="4.1"/><circle cx="769.1" cy="865.6" r="4.1"/><circle cx="784.5" cy="865.6" r="4.1"/><circle cx="830.7" cy="865.6" r="4.1"/></g>
<path d="M91.9 691.7L94.9 695.2L97.9 698.9L100.9 702.7L103.9 706.8L106.9 711.1L109.9 715.5L112.9 719.9L115.9 724.2L118.9 728.4L121.9 732.6L124.9 736.5L127.9 740.2L130.9 743.8L133.9 747.2L136.9 750.5L139.9 753.8L142.9 757.1L145.9 760.4L148.9 763.5L151.9 766.6L154.9 769.5L157.9 772.3L160.9 775L163.9 777.6L166.9 780.1L169.9 782.5L172.9 784.9L175.9 787.2L178.9 789.5L181.9 791.6L184.9 793.7L187.9 795.8L190.9 797.7L193.9 799.6L196.9 801.4L199.9 803.2L202.9 804.8L205.9 806.4L208.9 807.9L211.9 809.4L215 810.7L218 811.9L221 813L224 814L227 815L230 815.8L233 816.7L236 817.4L239 818.2L242 818.9L245 819.5L248 820.1L251 820.6L254 821.1L257 821.5L260 821.8L263 822.1L266 822.3L269 822.4L272 822.4L275 822.3L278 822.2L281 821.9L284 821.5L287 821.1L290 820.6L293 820.2L296 819.7L299 819.3L302 818.9L305 818.6L308 818.2L311 818L314 817.7L317 817.6L320 817.6L323 817.6L326 817.7L329 817.8L332 818L335 818.1L338 818.2L341 818.3L344 818.5L347 818.8L350 819L353 819.3L356 819.6L359 819.9L362 820.3L365 820.7L368 821.1L371 821.5L374 822L377 822.4L380 822.9L383.1 823.3L386.1 823.7L389.1 824.1L392.1 824.6L395.1 825L398.1 825.4L401.1 825.7L404.1 826.1L407.1 826.5L410.1 826.9L413.1 827.3L416.1 827.6L419.1 828L422.1 828.4L425.1 828.7L428.1 829.1L431.1 829.4L434.1 829.8L437.1 830.1L440.1 830.4L443.1 830.7L446.1 830.9L449.1 831.1L452.1 831.2L455.1 831.4L458.1 831.5L461.1 831.7L464.1 831.8L467.1 832L470.1 832.1L473.1 832.3L476.1 832.4L479.1 832.6L482.1 832.7L485.1 832.9L488.1 833L491.1 833.2L494.1 833.3L497.1 833.5L500.1 833.6L503.1 833.8L506.1 833.9L509.1 834.1L512.1 834.2L515.1 834.4L518.1 834.6L521.1 834.8L524.1 835L527.1 835.2L530.1 835.4L533.1 835.6L536.1 835.8L539.1 836L542.1 836.2L545.1 836.4L548.1 836.6L551.1 836.8L554.2 836.9L557.2 837.1L560.2 837.3L563.2 837.5L566.2 837.7L569.2 837.9L572.2 838.1L575.2 838.3L578.2 838.5L581.2 838.7L584.2 838.9L587.2 839.1L590.2 839.3L593.2 839.5L596.2 839.7L599.2 840L602.2 840.2L605.2 840.4L608.2 840.6L611.2 840.8L614.2 841L617.2 841.2L620.2 841.4L623.2 841.6L626.2 841.8L629.2 842L632.2 842.1L635.2 842.3L638.2 842.5L641.2 842.7L644.2 842.8L647.2 843L650.2 843.1L653.2 843.3L656.2 843.4L659.2 843.6L662.2 843.7L665.2 843.9L668.2 844L671.2 844.2L674.2 844.3L677.2 844.4L680.2 844.5L683.2 844.7L686.2 844.8L689.2 844.9L692.2 845L695.2 845L698.2 845.1L701.2 845.1L704.2 845.2L707.2 845.2L710.2 845.2L713.2 845.3L716.2 845.3L719.2 845.2L722.3 845.2L725.3 845.1L728.3 845L731.3 844.9L734.3 844.9L737.3 844.8L740.3 844.6L743.3 844.5L746.3 844.3L749.3 844L752.3 843.7L755.3 843.4L758.3 843L761.3 842.5L764.3 841.9L767.3 841.3L770.3 840.5L773.3 839.8L776.3 839.1L779.3 838.4L782.3 837.8L785.3 837.3L788.3 836.7L791.3 836.2L794.3 835.7L797.3 835.1L800.3 834.5L803.3 833.8L806.3 833.1L809.3 832.4L812.3 831.5L815.3 830.7L818.3 829.9L821.3 829.1L824.3 828.4L827.3 827.7L830.3 827L830.3 902.2L827.3 901.6L824.3 901L821.3 900.4L818.3 899.9L815.3 899.3L812.3 898.7L809.3 898.2L806.3 897.6L803.3 897.1L800.3 896.6L797.3 896.1L794.3 895.6L791.3 895.1L788.3 894.6L785.3 894.1L782.3 893.6L779.3 893.1L776.3 892.6L773.3 892.2L770.3 891.7L767.3 891.3L764.3 890.9L761.3 890.6L758.3 890.2L755.3 889.8L752.3 889.5L749.3 889.1L746.3 888.8L743.3 888.5L740.3 888.2L737.3 887.9L734.3 887.7L731.3 887.4L728.3 887.2L725.3 887L722.3 886.8L719.2 886.6L716.2 886.4L713.2 886.2L710.2 886.1L707.2 886L704.2 885.9L701.2 885.7L698.2 885.6L695.2 885.5L692.2 885.4L689.2 885.3L686.2 885.2L683.2 885.1L680.2 885L677.2 884.9L674.2 884.9L671.2 884.8L668.2 884.7L665.2 884.6L662.2 884.6L659.2 884.5L656.2 884.4L653.2 884.4L650.2 884.3L647.2 884.3L644.2 884.2L641.2 884.1L638.2 884L635.2 883.9L632.2 883.8L629.2 883.8L626.2 883.7L623.2 883.6L620.2 883.5L617.2 883.4L614.2 883.4L611.2 883.3L608.2 883.2L605.2 883.2L602.2 883.1L599.2 883L596.2 883L593.2 882.8L590.2 882.7L587.2 882.6L584.2 882.4L581.2 882.2L578.2 882L575.2 881.8L572.2 881.7L569.2 881.5L566.2 881.3L563.2 881.1L560.2 880.9L557.2 880.6L554.2 880.4L551.1 880.2L548.1 880L545.1 879.8L542.1 879.6L539.1 879.4L536.1 879.2L533.1 879L530.1 878.8L527.1 878.5L524.1 878.3L521.1 878.1L518.1 877.9L515.1 877.6L512.1 877.3L509.1 877L506.1 876.7L503.1 876.4L500.1 876.1L497.1 875.8L494.1 875.5L491.1 875.1L488.1 874.7L485.1 874.4L482.1 874L479.1 873.6L476.1 873.2L473.1 872.8L470.1 872.4L467.1 872L464.1 871.5L461.1 871.1L458.1 870.7L455.1 870.2L452.1 869.8L449.1 869.3L446.1 868.9L443.1 868.4L440.1 868L437.1 867.6L434.1 867.2L431.1 866.8L428.1 866.3L425.1 865.9L422.1 865.6L419.1 865.2L416.1 864.9L413.1 864.6L410.1 864.3L407.1 864L404.1 863.7L401.1 863.4L398.1 863.1L395.1 862.9L392.1 862.6L389.1 862.3L386.1 862.1L383.1 861.8L380 861.5L377 861.2L374 860.9L371 860.6L368 860.3L365 860L362 859.6L359 859.3L356 858.9L353 858.6L350 858.2L347 857.8L344 857.5L341 857.1L338 856.8L335 856.7L332 856.5L329 856.4L326 856.3L323 856.1L320 855.8L317 855.6L314 855.4L311 855.2L308 855.1L305 855.1L302 855.1L299 855.2L296 855.3L293 855.4L290 855.6L287 855.9L284 856.1L281 856.4L278 856.6L275 856.8L272 856.9L269 857L266 857L263 856.9L260 856.7L257 856.4L254 856L251 855.4L248 854.8L245 854L242 853.2L239 852.2L236 851.2L233 850.2L230 849.1L227 847.9L224 846.6L221 845.3L218 843.9L215 842.4L211.9 840.8L208.9 839.1L205.9 837.2L202.9 835.4L199.9 833.4L196.9 831.3L193.9 829.3L190.9 827.2L187.9 825.1L184.9 823L181.9 820.8L178.9 818.7L175.9 816.4L172.9 814.1L169.9 811.8L166.9 809.4L163.9 807L160.9 804.6L157.9 802.1L154.9 799.6L151.9 797L148.9 794.3L145.9 791.4L142.9 788.4L139.9 785.4L136.9 782.4L133.9 779.4L130.9 776.4L127.9 773.3L124.9 770.2L121.9 766.9L118.9 763.7L115.9 760.4L112.9 757.1L109.9 753.8L106.9 750.5L103.9 747.3L100.9 744.1L97.9 741L94.9 737.9L91.9 734.9Z" fill="#999999" fill-opacity="0.4" clip-path="url(#cp3)"/>
<path d="M91.9 710.8L94.9 714.2L97.9 717.7L100.9 721.2L103.9 724.7L106.9 728.3L109.9 731.8L112.9 735.3L115.9 738.7L118.9 742.1L121.9 745.4L124.9 748.7L127.9 752L130.9 755.3L133.9 758.6L136.9 761.8L139.9 765L142.9 768.1L145.9 771.1L148.9 774L151.9 776.9L154.9 779.7L157.9 782.5L160.9 785.1L163.9 787.7L166.9 790.2L169.9 792.7L172.9 795.1L175.9 797.4L178.9 799.6L181.9 801.8L184.9 803.9L187.9 805.9L190.9 807.9L193.9 809.8L196.9 811.6L199.9 813.4L202.9 815.1L205.9 816.8L208.9 818.5L211.9 820.2L215 821.9L218 823.5L221 825.1L224 826.7L227 828.1L230 829.4L233 830.6L236 831.7L239 832.7L242 833.7L245 834.6L248 835.4L251 836.1L254 836.8L257 837.3L260 837.7L263 838L266 838.2L269 838.3L272 838.4L275 838.4L278 838.3L281 838.2L284 838.1L287 837.9L290 837.7L293 837.4L296 837.2L299 836.9L302 836.7L305 836.4L308 836.3L311 836.1L314 836.1L317 836L320 836.1L323 836.2L326 836.3L329 836.4L332 836.5L335 836.7L338 836.9L341 837.2L344 837.5L347 837.9L350 838.2L353 838.6L356 839L359 839.4L362 839.8L365 840.2L368 840.6L371 841.1L374 841.5L377 841.9L380 842.3L383.1 842.7L386.1 843L389.1 843.3L392.1 843.5L395.1 843.8L398.1 844L401.1 844.3L404.1 844.5L407.1 844.8L410.1 845L413.1 845.2L416.1 845.4L419.1 845.7L422.1 845.9L425.1 846.2L428.1 846.5L431.1 846.7L434.1 847L437.1 847.3L440.1 847.6L443.1 847.9L446.1 848.2L449.1 848.6L452.1 848.9L455.1 849.3L458.1 849.6L461.1 850L464.1 850.3L467.1 850.7L470.1 851L473.1 851.3L476.1 851.6L479.1 851.9L482.1 852.2L485.1 852.5L488.1 852.8L491.1 853.1L494.1 853.4L497.1 853.6L500.1 853.8L503.1 854L506.1 854.3L509.1 854.5L512.1 854.7L515.1 854.9L518.1 855.1L521.1 855.3L524.1 855.5L527.1 855.7L530.1 855.9L533.1 856.1L536.1 856.4L539.1 856.6L542.1 856.8L545.1 857L548.1 857.3L551.1 857.6L554.2 857.8L557.2 858.1L560.2 858.4L563.2 858.6L566.2 858.9L569.2 859.1L572.2 859.4L575.2 859.6L578.2 859.8L581.2 860L584.2 860.2L587.2 860.4L590.2 860.6L593.2 860.9L596.2 861.1L599.2 861.3L602.2 861.5L605.2 861.7L608.2 861.9L611.2 862.1L614.2 862.3L617.2 862.5L620.2 862.7L623.2 862.8L626.2 863L629.2 863.2L632.2 863.3L635.2 863.5L638.2 863.6L641.2 863.7L644.2 863.9L647.2 864L650.2 864.1L653.2 864.3L656.2 864.4L659.2 864.5L662.2 864.6L665.2 864.7L668.2 864.8L671.2 864.9L674.2 865L677.2 865.1L680.2 865.1L683.2 865.2L686.2 865.2L689.2 865.3L692.2 865.3L695.2 865.4L698.2 865.4L701.2 865.4L704.2 865.4L707.2 865.4L710.2 865.5L713.2 865.5L716.2 865.5L719.2 865.5L722.3 865.5L725.3 865.5L728.3 865.6L731.3 865.6L734.3 865.6L737.3 865.6L740.3 865.6L743.3 865.6L746.3 865.6L749.3 865.6L752.3 865.6L755.3 865.6L758.3 865.6L761.3 865.5L764.3 865.5L767.3 865.5L770.3 865.5L773.3 865.5L776.3 865.5L779.3 865.5L782.3 865.4L785.3 865.4L788.3 865.4L791.3 865.4L794.3 865.4L797.3 865.3L800.3 865.3L803.3 865.3L806.3 865.3L809.3 865.2L812.3 865.2L815.3 865.1L818.3 864.9L821.3 864.6L824.3 864.3L827.3 863.8L830.3 863.4" fill="none" stroke="#3366ff" stroke-width="2.4" stroke-linejoin="round"/>
<g stroke="#444" stroke-width="1.3"><path d="M50 881.4H54.5"/><path d="M50 802.5H54.5"/><path d="M50 723.6H54.5"/><path d="M50 644.7H54.5"/><path d="M50 565.8H54.5"/><path d="M76 920V924.5"/><path d="M229.9 920V924.5"/><path d="M383.8 920V924.5"/><path d="M537.7 920V924.5"/><path d="M691.6 920V924.5"/><path d="M845.5 920V924.5"/></g>
<g class="tl" text-anchor="end"><text x="45.4" y="886.8">0</text><text x="45.4" y="807.9">5</text><text x="45.4" y="729">10</text><text x="45.4" y="650.1">15</text><text x="45.4" y="571.1">20</text></g>
<g class="tl" text-anchor="middle"><text x="76" y="942.2">0.00</text><text x="229.9" y="942.2">0.01</text><text x="383.8" y="942.2">0.02</text><text x="537.7" y="942.2">0.03</text><text x="691.6" y="942.2">0.04</text><text x="845.5" y="942.2">0.05</text></g>
<text class="tt" text-anchor="middle" x="437.9" y="977.2" textLength="81.2" lengthAdjust="spacingAndGlyphs"><tspan font-style="italic">p</tspan>-value</text>
<text class="tt" text-anchor="middle" transform="translate(21.2 720.5) rotate(-90)" textLength="162" lengthAdjust="spacingAndGlyphs">Fragility index</text>
<text class="an" x="613" y="557.5" textLength="224.5" lengthAdjust="spacingAndGlyphs"><tspan font-style="italic">r</tspan><tspan font-style="italic" font-size="17" dy="5.5">s</tspan><tspan dy="-5.5"> = -0.857, </tspan><tspan font-style="italic">p</tspan> &lt; 0.001</text>
<text class="lt" x="0.6" y="540.5">C</text>
</g>
</svg>
</body>
</html>
